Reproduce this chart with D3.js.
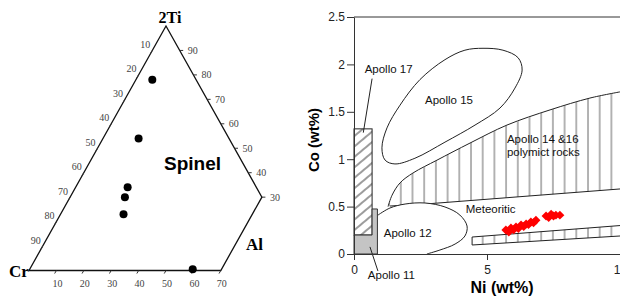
<!DOCTYPE html>
<html><head><meta charset="utf-8">
<script src="https://cdn.jsdelivr.net/npm/d3@7"></script>
<style>body{margin:0;background:#fff}svg{display:block}</style>
</head><body>
<svg id="c" width="620" height="297"></svg>
<script>
// ---------- Ternary (left) data ----------
const ternaryApices = ["Cr", "2Ti", "Al"];
// spinel compositions [Cr, 2Ti, Al] in %
const spinelPoints = [
  [16, 78, 6], [33, 54, 13], [47, 34, 19], [50, 30, 20], [54, 23, 23], [40, 0.5, 59.5]
];
const crTicks = [10, 20, 30, 40, 50, 60, 70, 80, 90];
const tiTicks = [90, 80, 70, 60, 50, 40, 30];
const alTicks = [10, 20, 30, 40, 50, 60, 70];
const ternaryOutline = [[100, 0, 0], [0, 100, 0], [0, 30, 70], [30, 0, 70]];

// ---------- Ni-Co (right) data ----------
const xTicks = [0, 5, 10];
const yTicks = [0, 0.5, 1, 1.5, 2, 2.5];
const yTickLabels = ["0", "0.5", "1", "1.5", "2", "2.5"];
const apollo15 = [[4.85,2.17],[5.6,2.15],[6.17,2.07],[6.32,1.94],[6.05,1.75],[5.49,1.54],[4.55,1.36],[3.42,1.18],[2.29,1.01],[1.54,0.95],[1.17,0.99],[1.05,1.12],[1.24,1.33],[1.73,1.57],[2.48,1.84],[3.42,2.05],[4.17,2.15]];
const apollo1416Upper = [[1.28,0.5],[1.43,0.62],[1.73,0.75],[2.22,0.855],[3.12,0.99],[4.36,1.17],[5.75,1.36],[7.37,1.52],[8.87,1.645],[10,1.71]];
const apollo1416Lower = [[10,0.686],[2.67,0.527],[1.35,0.506]];
const lowerBandTop = [[4.44,0.179],[10,0.30]];
const lowerBandBottom = [[10,0.19],[4.44,0.095]];
const apollo12 = [[0.9,0.41],[1.35,0.485],[1.92,0.527],[2.67,0.538],[3.42,0.496],[3.98,0.411],[4.25,0.295],[4.17,0.19],[3.8,0.105],[3.23,0.042],[2.74,0.0]];
const apollo17Rect = [[0,0.2],[0.68,1.32]];
const apollo11Poly = [[0,0],[0.88,0],[0.88,0.475],[0.68,0.475],[0.68,0.2],[0,0.2]];
const meteoriticNi = [5.71,5.82,5.9,6.0,6.09,6.18,6.28,6.38,6.47,6.56,6.65,6.75,6.84,7.22,7.32,7.41,7.5,7.59,7.74];
const meteoriticCo = [0.253,0.232,0.274,0.255,0.285,0.27,0.306,0.29,0.316,0.31,0.338,0.33,0.355,0.40,0.385,0.42,0.40,0.41,0.41];
const regionLabels = [
  {t:"Apollo 17", x:0.4, y:1.91},
  {t:"Apollo 15", x:2.67, y:1.58},
  {t:"Apollo 14 &16", x:5.75, y:1.17},
  {t:"polymict rocks", x:5.75, y:1.03},
  {t:"Meteoritic", x:4.2, y:0.43},
  {t:"Apollo 12", x:1.12, y:0.18},
  {t:"Apollo 11", x:0.52, y:-0.26}
];
const leaders = [
  [[0.68,1.85],[0.35,1.28]],
  [[0.9,-0.18],[0.6,0.075]]
];

const svg = d3.select("#c");
const defs = svg.append("defs");
defs.append("pattern").attr("id","vh").attr("patternUnits","userSpaceOnUse")
  .attr("width",11.7).attr("height",10).attr("x",2)
  .append("line").attr("x1",1).attr("x2",1).attr("y1",0).attr("y2",10)
  .attr("stroke","#555").attr("stroke-width",0.9);
const dp = defs.append("pattern").attr("id","dh").attr("patternUnits","userSpaceOnUse")
  .attr("width",8).attr("height",8).attr("patternTransform","rotate(-40)");
dp.append("line").attr("x1",0).attr("x2",8).attr("y1",4).attr("y2",4)
  .attr("stroke","#222").attr("stroke-width",0.9);

// ===== Ternary =====
const tx = d3.scaleLinear().domain([0,100]).range([29,303]);
const ty = d3.scaleLinear().domain([0,100]).range([270.5,26]);
const proj = d => [tx(d[2] + d[1]/2), ty(d[1])];
const serif = "'Liberation Serif','Times New Roman',serif";
const g1 = svg.append("g");
g1.append("path").attr("d", d3.line()(ternaryOutline.map(proj)) + "Z")
  .attr("fill","none").attr("stroke","#111").attr("stroke-width",1.3);

// ticks
const tickLen = 3.5;
crTicks.forEach(c => {
  const [x,y] = proj([c,100-c,0]);
  g1.append("line").attr("x1",x).attr("y1",y).attr("x2",x-tickLen*0.5).attr("y2",y+tickLen*0.87).attr("stroke","#333");
  g1.append("text").attr("x",x-2).attr("y",y-2.5).attr("text-anchor","end")
    .attr("font-family",serif).attr("font-size",10).attr("fill","#444").text(c);
});
tiTicks.forEach(t => {
  const [x,y] = proj([0,t,100-t]);
  g1.append("line").attr("x1",x).attr("y1",y).attr("x2",x+tickLen).attr("y2",y).attr("stroke","#333");
  g1.append("text").attr("x",x+8).attr("y",y+3.5)
    .attr("font-family",serif).attr("font-size",10).attr("fill","#444").text(t);
});
alTicks.forEach(a => {
  const [x,y] = proj([100-a,0,a]);
  g1.append("line").attr("x1",x).attr("y1",y).attr("x2",x-tickLen*0.5).attr("y2",y+tickLen*0.87).attr("stroke","#333");
  g1.append("text").attr("x",x+1).attr("y",y+16).attr("text-anchor","middle")
    .attr("font-family",serif).attr("font-size",10).attr("fill","#444").text(a);
});
// apex labels
g1.append("text").attr("x",170).attr("y",22.5).attr("text-anchor","middle")
  .attr("font-family",serif).attr("font-weight","bold").attr("font-size",16).text(ternaryApices[1]);
g1.append("text").attr("x",9).attr("y",277)
  .attr("font-family",serif).attr("font-weight","bold").attr("font-size",17).text(ternaryApices[0]);
g1.append("text").attr("x",246).attr("y",250)
  .attr("font-family",serif).attr("font-weight","bold").attr("font-size",17).text(ternaryApices[2]);
g1.append("text").attr("x",164).attr("y",170)
  .attr("font-family","'Liberation Sans',Arial,sans-serif").attr("font-weight","bold").attr("font-size",19).text("Spinel");
g1.selectAll("circle").data(spinelPoints).join("circle")
  .attr("cx",d=>proj(d)[0]).attr("cy",d=>proj(d)[1]).attr("r",4).attr("fill","#000");

// ===== Ni-Co =====
const sans = "'Liberation Sans',Arial,sans-serif";
const x = d3.scaleLinear().domain([0,10]).range([354,620]);
const y = d3.scaleLinear().domain([0,2.5]).range([254,17]);
const g2 = svg.append("g");
const line = d3.line().x(d=>x(d[0])).y(d=>y(d[1]));
const curve = d3.line().x(d=>x(d[0])).y(d=>y(d[1])).curve(d3.curveCatmullRom);

// Apollo 14&16 hatched region
const reg = apollo1416Upper.concat(apollo1416Lower);
g2.append("path").attr("d", line(reg)+"Z").attr("fill","url(#vh)").attr("stroke","none");
g2.append("path").attr("d", curve(apollo1416Upper))
  .attr("fill","none").attr("stroke","#222").attr("stroke-width",1);
g2.append("path").attr("d", line(apollo1416Lower)).attr("fill","none").attr("stroke","#222").attr("stroke-width",1);

// lower band
const band = lowerBandTop.concat(lowerBandBottom);
g2.append("path").attr("d", line(band)+"Z").attr("fill","url(#vh)").attr("stroke","none");
g2.append("path").attr("d", line(lowerBandTop)).attr("fill","none").attr("stroke","#222");
g2.append("path").attr("d", line(lowerBandBottom)).attr("fill","none").attr("stroke","#222");
g2.append("path").attr("d", line([lowerBandTop[0], lowerBandBottom[1]])).attr("fill","none").attr("stroke","#222");

// Apollo 15
g2.append("path").attr("d", d3.line().x(d=>x(d[0])).y(d=>y(d[1])).curve(d3.curveCatmullRomClosed)(apollo15))
  .attr("fill","#fff").attr("stroke","#222").attr("stroke-width",1);
// Apollo 12
g2.append("path").attr("d", curve(apollo12))
  .attr("fill","#fff").attr("stroke","#222").attr("stroke-width",1);

// Apollo 17 hatched rect
g2.append("rect").attr("x",x(apollo17Rect[0][0])).attr("y",y(apollo17Rect[1][1]))
  .attr("width",x(apollo17Rect[1][0])-x(apollo17Rect[0][0]))
  .attr("height",y(apollo17Rect[0][1])-y(apollo17Rect[1][1]))
  .attr("fill","url(#dh)").attr("stroke","#222").attr("stroke-width",1);
// Apollo 11 grey
g2.append("path").attr("d", line(apollo11Poly)+"Z").attr("fill","#c4c4c4").attr("stroke","#333").attr("stroke-width",1);

// leaders
leaders.forEach(l => g2.append("path").attr("d", line(l)).attr("stroke","#222").attr("fill","none"));

// red diamonds
const meteor = meteoriticNi.map((v,i)=>[v, meteoriticCo[i]]);
g2.selectAll("path.m").data(meteor).join("path").attr("class","m")
  .attr("d", d3.symbol(d3.symbolSquare, 40)())
  .attr("transform", d=>`translate(${x(d[0])},${y(d[1])}) rotate(45)`)
  .attr("fill","#f00");

// axes
const ax = g2.append("g").attr("transform","translate(0,254)")
  .call(d3.axisBottom(x).tickValues(xTicks).tickSize(6).tickSizeOuter(0));
ax.select(".domain").attr("d","M347,0.5H620");
const ay = g2.append("g").attr("transform","translate(354,0)")
  .call(d3.axisLeft(y).tickValues(yTicks).tickFormat((d,i)=>yTickLabels[i]).tickSize(7).tickSizeOuter(0));
[ax, ay].forEach(a => {
  a.selectAll("text").attr("font-family",sans).attr("font-size",12).attr("fill","#222");
  a.selectAll("line,path").attr("stroke","#333");
});
ax.selectAll("text").attr("dy","0.9em");
ay.selectAll("text").attr("x",-9);
g2.append("line").attr("x1",354).attr("x2",620).attr("y1",17).attr("y2",17).attr("stroke","#333");

// region labels
g2.selectAll("text.rl").data(regionLabels).join("text").attr("class","rl")
  .attr("x",d=>x(d.x)).attr("y",d=>y(d.y)).attr("font-family",sans).attr("font-size",11.5).attr("fill","#111").text(d=>d.t);

// axis titles
g2.append("text").attr("x",502).attr("y",293).attr("text-anchor","middle")
  .attr("font-family",sans).attr("font-weight","bold").attr("font-size",16).text("Ni (wt%)");
g2.append("text").attr("transform","translate(319,140) rotate(-90)").attr("text-anchor","middle")
  .attr("font-family",sans).attr("font-weight","bold").attr("font-size",15).text("Co (wt%)");
</script>
</body></html>
